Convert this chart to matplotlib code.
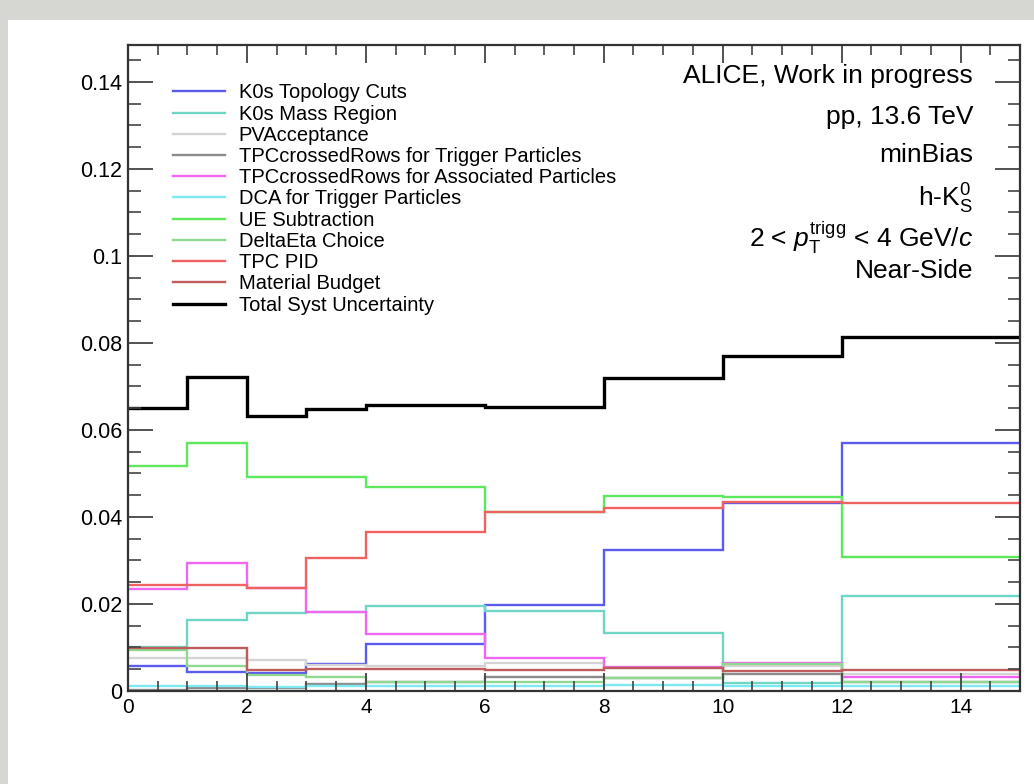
import matplotlib
matplotlib.use('Agg')
import matplotlib.pyplot as plt
from matplotlib.patches import Rectangle
from matplotlib.ticker import MultipleLocator

plt.rcParams['font.family'] = ['Liberation Sans', 'DejaVu Sans']
plt.rcParams['mathtext.fontset'] = 'custom'
plt.rcParams['mathtext.rm'] = 'Liberation Sans'
plt.rcParams['mathtext.it'] = 'Liberation Sans:italic'

# bin edges (pT assoc, GeV/c)
edges = [0, 1, 2, 3, 4, 6, 8, 10, 12, 15]

# relative systematic uncertainties per source
topology  = [0.0057, 0.0044, 0.0041, 0.0062, 0.0108, 0.0198, 0.0324, 0.0432, 0.0570]
mass      = [0.0102, 0.0163, 0.0179, 0.0182, 0.0196, 0.0184, 0.0134, 0.0018, 0.0218]
pvacc     = [0.0076, 0.0076, 0.0071, 0.0060, 0.0057, 0.0064, 0.0052, 0.0058, 0.0040]
tpc_trig  = [0.0003, 0.0007, 0.0008, 0.0015, 0.0020, 0.0033, 0.0030, 0.0040, 0.0020]
tpc_assoc = [0.0235, 0.0294, 0.0237, 0.0182, 0.0131, 0.0076, 0.0055, 0.0064, 0.0032]
dca       = [0.0012, 0.0012, 0.0010, 0.0012, 0.0012, 0.0012, 0.0013, 0.0012, 0.0012]
ue        = [0.0517, 0.0570, 0.0492, 0.0492, 0.0469, 0.0411, 0.0448, 0.0446, 0.0308]
deta      = [0.0094, 0.0057, 0.0037, 0.0032, 0.0020, 0.0020, 0.0030, 0.0062, 0.0020]
pid       = [0.0244, 0.0244, 0.0237, 0.0306, 0.0366, 0.0412, 0.0420, 0.0435, 0.0432]
material  = [0.0099, 0.0099, 0.0048, 0.0050, 0.0050, 0.0048, 0.0053, 0.0046, 0.0048]
total     = [0.0650, 0.0722, 0.0632, 0.0648, 0.0657, 0.0653, 0.0720, 0.0770, 0.0814]

sources = [
    ('K0s Topology Cuts', topology, '#5b5bf0'),
    ('K0s Mass Region', mass, '#6fd6c6'),
    ('PVAcceptance', pvacc, '#d4d4d4'),
    ('TPCcrossedRows for Trigger Particles', tpc_trig, '#8c8c8c'),
    ('TPCcrossedRows for Associated Particles', tpc_assoc, '#f066f0'),
    ('DCA for Trigger Particles', dca, '#7fe8f0'),
    ('UE Subtraction', ue, '#5ee85e'),
    ('DeltaEta Choice', deta, '#8fd88f'),
    ('TPC PID', pid, '#f06262'),
    ('Material Budget', material, '#c05c5c'),
]

fig = plt.figure(figsize=(10.34, 7.84), dpi=100, facecolor='#d6d6d2')
fig.patches.append(Rectangle((8/1034, 0), 1 - 8/1034, 1 - 20/784,
                             transform=fig.transFigure, facecolor='white',
                             edgecolor='none', zorder=-10))

ax = fig.add_axes([128/1034, 1 - 691/784, (1020 - 128)/1034, (691 - 45)/784])
ax.set_facecolor('white')

for name, vals, col in sources:
    ax.stairs(vals, edges, baseline=None, color=col, lw=1.7, label=name)
ax.stairs(total, edges, baseline=None, color='black', lw=2.4,
          label='Total Syst Uncertainty')

ax.set_xlim(0, 15)
ax.set_ylim(0, 0.1485)

ax.xaxis.set_major_locator(MultipleLocator(2))
ax.xaxis.set_minor_locator(MultipleLocator(0.5))
ax.yaxis.set_major_locator(MultipleLocator(0.02))
ax.yaxis.set_minor_locator(MultipleLocator(0.005))
ax.yaxis.set_major_formatter(plt.FuncFormatter(lambda v, p: '0' if v == 0 else '%g' % round(v, 3)))

ax.tick_params(axis='both', which='both', direction='in', top=True, right=True,
               color='#444444')
ax.tick_params(axis='x', which='major', length=13, width=1.3, pad=5, labelsize=15)
ax.tick_params(axis='x', which='minor', length=7, width=1.2)
ax.tick_params(axis='y', which='major', length=18, width=1.3, pad=4, labelsize=15.5)
ax.tick_params(axis='y', which='minor', length=9, width=1.2)
for s in ax.spines.values():
    s.set_linewidth(1.6)
    s.set_color('#333333')

leg = ax.legend(loc='upper left', bbox_to_anchor=(0.0415, 0.953), frameon=False,
                fontsize=14.5, handlelength=2.6, handletextpad=0.65,
                labelspacing=0.11, borderaxespad=0)

txt = ['ALICE, Work in progress', 'pp, 13.6 TeV', 'minBias',
       r'h-K$^{0}_{\mathrm{S}}$',
       r'2 < $p_{\mathrm{T}}^{\mathrm{trigg}}$ < 4 GeV/$c$', 'Near-Side']
ypix = [83, 124, 162, 207, 247, 278]
for t, yp in zip(txt, ypix):
    fig.text(973/1034, 1 - yp/784, t, ha='right', va='baseline', fontsize=19)

fig.savefig('out.png', dpi=100, facecolor=fig.get_facecolor())
